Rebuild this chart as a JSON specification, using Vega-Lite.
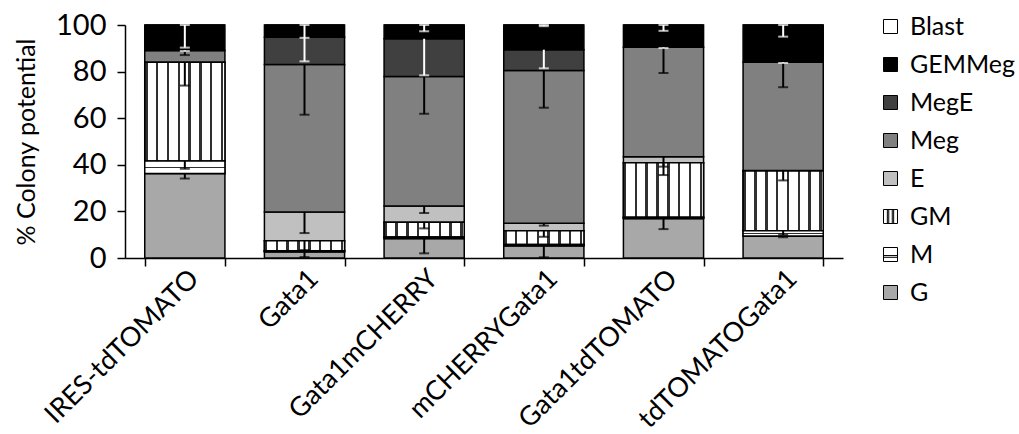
{
  "$schema": "https://vega.github.io/schema/vega-lite/v6.json",
  "width": 718,
  "height": 233,
  "autosize": {"type": "none"},
  "padding": {"left": 125, "top": 25, "right": 176, "bottom": 176},
  "background": "white",
  "config": {
    "font": "Lato",
    "view": {"stroke": null},
    "axis": {"domainColor": "black", "domainWidth": 1.5, "tickColor": "black", "tickWidth": 1.5, "tickSize": 8, "labelColor": "black", "titleColor": "black", "grid": false, "labelFontSize": 29, "titleFontSize": 25, "titleFontWeight": "normal", "labelLimit": 0}
  },
  "data": {
    "values": [
      {"construct": "IRES-tdTOMATO", "cat": "G", "value": 36.3, "err": 2.2},
      {"construct": "IRES-tdTOMATO", "cat": "M", "value": 5.3, "err": 3.3},
      {"construct": "IRES-tdTOMATO", "cat": "GM", "value": 42.4, "err": 10},
      {"construct": "IRES-tdTOMATO", "cat": "E", "value": 0, "err": 0},
      {"construct": "IRES-tdTOMATO", "cat": "Meg", "value": 5.1, "err": 2},
      {"construct": "IRES-tdTOMATO", "cat": "MegE", "value": 0, "err": 0.3},
      {"construct": "IRES-tdTOMATO", "cat": "GEMMeg", "value": 10.9, "err": 9.7},
      {"construct": "IRES-tdTOMATO", "cat": "Blast", "value": 0, "err": 0},
      {"construct": "Gata1", "cat": "G", "value": 2.7, "err": 2.3},
      {"construct": "Gata1", "cat": "M", "value": 0.4, "err": 0},
      {"construct": "Gata1", "cat": "GM", "value": 4.3, "err": 4},
      {"construct": "Gata1", "cat": "E", "value": 12.3, "err": 9},
      {"construct": "Gata1", "cat": "Meg", "value": 63.3, "err": 21.5},
      {"construct": "Gata1", "cat": "MegE", "value": 11.7, "err": 10.3},
      {"construct": "Gata1", "cat": "GEMMeg", "value": 5.3, "err": 5.5},
      {"construct": "Gata1", "cat": "Blast", "value": 0, "err": 0},
      {"construct": "Gata1mCHERRY", "cat": "G", "value": 8.4, "err": 6.4},
      {"construct": "Gata1mCHERRY", "cat": "M", "value": 0.6, "err": 0},
      {"construct": "Gata1mCHERRY", "cat": "GM", "value": 6.3, "err": 2.6},
      {"construct": "Gata1mCHERRY", "cat": "E", "value": 7, "err": 3},
      {"construct": "Gata1mCHERRY", "cat": "Meg", "value": 55.6, "err": 16},
      {"construct": "Gata1mCHERRY", "cat": "MegE", "value": 16.2, "err": 15.7},
      {"construct": "Gata1mCHERRY", "cat": "GEMMeg", "value": 5.9, "err": 2.7},
      {"construct": "Gata1mCHERRY", "cat": "Blast", "value": 0, "err": 0},
      {"construct": "mCHERRYGata1", "cat": "G", "value": 5.3, "err": 5},
      {"construct": "mCHERRYGata1", "cat": "M", "value": 0.5, "err": 0},
      {"construct": "mCHERRYGata1", "cat": "GM", "value": 5.9, "err": 2.6},
      {"construct": "mCHERRYGata1", "cat": "E", "value": 3.2, "err": 1},
      {"construct": "mCHERRYGata1", "cat": "Meg", "value": 65.6, "err": 16},
      {"construct": "mCHERRYGata1", "cat": "MegE", "value": 8.9, "err": 8},
      {"construct": "mCHERRYGata1", "cat": "GEMMeg", "value": 10.6, "err": 0.5},
      {"construct": "mCHERRYGata1", "cat": "Blast", "value": 0, "err": 0},
      {"construct": "Gata1tdTOMATO", "cat": "G", "value": 17, "err": 4.6},
      {"construct": "Gata1tdTOMATO", "cat": "M", "value": 0.5, "err": 0},
      {"construct": "Gata1tdTOMATO", "cat": "GM", "value": 23.4, "err": 5.3},
      {"construct": "Gata1tdTOMATO", "cat": "E", "value": 2.6, "err": 4.3},
      {"construct": "Gata1tdTOMATO", "cat": "Meg", "value": 46.9, "err": 11},
      {"construct": "Gata1tdTOMATO", "cat": "MegE", "value": 0, "err": 0.3},
      {"construct": "Gata1tdTOMATO", "cat": "GEMMeg", "value": 9.6, "err": 2.5},
      {"construct": "Gata1tdTOMATO", "cat": "Blast", "value": 0, "err": 0},
      {"construct": "tdTOMATOGata1", "cat": "G", "value": 9.4, "err": 0.5},
      {"construct": "tdTOMATOGata1", "cat": "M", "value": 2.3, "err": 1.8},
      {"construct": "tdTOMATOGata1", "cat": "GM", "value": 25.6, "err": 4},
      {"construct": "tdTOMATOGata1", "cat": "E", "value": 0.3, "err": 0},
      {"construct": "tdTOMATOGata1", "cat": "Meg", "value": 46.4, "err": 10.7},
      {"construct": "tdTOMATOGata1", "cat": "MegE", "value": 0, "err": 0.3},
      {"construct": "tdTOMATOGata1", "cat": "GEMMeg", "value": 16, "err": 5},
      {"construct": "tdTOMATOGata1", "cat": "Blast", "value": 0, "err": 0}
    ]
  },
  "transform": [
    {"calculate": "indexof(['G','M','GM','E','Meg','MegE','GEMMeg','Blast'], datum.cat)", "as": "ord"},
    {"stack": "value", "groupby": ["construct"], "sort": [{"field": "ord", "order": "ascending"}], "as": ["v0", "v1"]},
    {"calculate": "datum.v1 - datum.err", "as": "lo"}
  ],
  "encoding": {
    "x": {
      "field": "construct",
      "type": "nominal",
      "sort": ["IRES-tdTOMATO", "Gata1", "Gata1mCHERRY", "mCHERRYGata1", "Gata1tdTOMATO", "tdTOMATOGata1"],
      "scale": {"paddingInner": 0.33, "paddingOuter": 0.165},
      "axis": {"title": null, "labelAngle": -45, "tickBand": "extent", "labelPadding": -1, "labelFontSize": 27}
    }
  },
  "layer": [
    {
      "mark": {"type": "bar", "stroke": "black", "strokeWidth": 1.5},
      "encoding": {
        "y": {"field": "v0", "type": "quantitative", "scale": {"domain": [0, 100]}, "axis": {"values": [0, 20, 40, 60, 80, 100], "title": "% Colony potential", "titlePadding": 16, "labelPadding": 11}},
        "y2": {"field": "v1"},
        "color": {
          "field": "cat",
          "type": "nominal",
          "scale": {
            "domain": ["Blast", "GEMMeg", "MegE", "Meg", "E", "GM", "M", "G"],
            "range": ["#ffffff", "#000000", "#404040", "#808080", "#c0c0c0", "#ffffff", "#ffffff", "#a8a8a8"]
          },
          "legend": {
            "title": null, "orient": "none", "legendX": 753, "legendY": -11, "padding": 0,
            "labelFontSize": 25, "labelColor": "black", "symbolType": "square", "symbolSize": 196,
            "symbolStrokeColor": "black", "symbolStrokeWidth": 1, "symbolOpacity": 1, "rowPadding": 12, "labelOffset": 7,
            "encode": {
              "symbols": {
                "update": {
                  "stroke": {"value": "black"},
                  "strokeWidth": {"value": 1},
                  "opacity": {"value": 1},
                  "fillOpacity": {"value": 1},
                  "shape": [
                    {"test": "datum.value === 'GM'", "value": "M-1,-1H1V1H-1ZM-0.45,-1V1M-0.25,-1V1M0.25,-1V1M0.45,-1V1"},
                    {"test": "datum.value === 'M'", "value": "M-1,-1H1V1H-1ZM-1,0.15H1M-1,0.4H1"},
                    {"value": "square"}
                  ]
                }
              }
            }
          }
        }
      }
    },
    {
      "transform": [{"filter": "datum.cat === 'GM'"}],
      "mark": {"type": "bar", "stroke": "black", "strokeWidth": 1.5, "fill": {"gradient": "linear", "x1": 0, "y1": 0, "x2": 1, "y2": 0, "stops": [
                {"offset": 0, "color": "#ffffff"}, {"offset": 0.005, "color": "#ffffff"}, {"offset": 0.005, "color": "#303030"}, {"offset": 0.035, "color": "#303030"}, {"offset": 0.035, "color": "#ffffff"},
                {"offset": 0.14, "color": "#ffffff"}, {"offset": 0.14, "color": "#303030"}, {"offset": 0.17, "color": "#303030"}, {"offset": 0.17, "color": "#ffffff"},
                {"offset": 0.275, "color": "#ffffff"}, {"offset": 0.275, "color": "#303030"}, {"offset": 0.305, "color": "#303030"}, {"offset": 0.305, "color": "#ffffff"},
                {"offset": 0.41, "color": "#ffffff"}, {"offset": 0.41, "color": "#303030"}, {"offset": 0.44, "color": "#303030"}, {"offset": 0.44, "color": "#ffffff"},
                {"offset": 0.545, "color": "#ffffff"}, {"offset": 0.545, "color": "#303030"}, {"offset": 0.575, "color": "#303030"}, {"offset": 0.575, "color": "#ffffff"},
                {"offset": 0.68, "color": "#ffffff"}, {"offset": 0.68, "color": "#303030"}, {"offset": 0.71, "color": "#303030"}, {"offset": 0.71, "color": "#ffffff"},
                {"offset": 0.815, "color": "#ffffff"}, {"offset": 0.815, "color": "#303030"}, {"offset": 0.845, "color": "#303030"}, {"offset": 0.845, "color": "#ffffff"},
                {"offset": 0.95, "color": "#ffffff"}, {"offset": 0.95, "color": "#303030"}, {"offset": 0.98, "color": "#303030"}, {"offset": 0.98, "color": "#ffffff"},
                {"offset": 1, "color": "#ffffff"}
              ]}},
      "encoding": {
        "y": {"field": "v0", "type": "quantitative"},
        "y2": {"field": "v1"}
      }
    },
    {
      "transform": [{"filter": "datum.cat === 'M'"}],
      "mark": {"type": "bar", "stroke": "black", "strokeWidth": 1.5, "fill": {"gradient": "linear", "x1": 0, "y1": 0, "x2": 0, "y2": 1, "stops": [
                {"offset": 0, "color": "#ffffff"}, {"offset": 0.45, "color": "#ffffff"}, {"offset": 0.45, "color": "#303030"}, {"offset": 0.6, "color": "#303030"}, {"offset": 0.6, "color": "#ffffff"}, {"offset": 1, "color": "#ffffff"}
              ]}},
      "encoding": {
        "y": {"field": "v0", "type": "quantitative"},
        "y2": {"field": "v1"}
      }
    },
    {
      "transform": [{"filter": "datum.err > 0"}],
      "mark": {"type": "rule", "strokeWidth": 2},
      "encoding": {
        "y": {"field": "v1", "type": "quantitative"},
        "y2": {"field": "lo"},
        "color": {"condition": {"test": "datum.cat === 'MegE' || datum.cat === 'GEMMeg'", "value": "white"}, "value": "black"}
      }
    },
    {
      "transform": [{"filter": "datum.err > 0"}],
      "mark": {"type": "tick", "orient": "horizontal", "size": 10, "thickness": 2},
      "encoding": {
        "y": {"field": "lo", "type": "quantitative"},
        "color": {"condition": {"test": "datum.cat === 'MegE' || datum.cat === 'GEMMeg'", "value": "white"}, "value": "black"}
      }
    },
    {
      "transform": [{"filter": "datum.cat === 'GEMMeg'"}],
      "mark": {"type": "tick", "orient": "horizontal", "size": 10, "thickness": 2, "color": "white"},
      "encoding": {
        "y": {"field": "v1", "type": "quantitative"}
      }
    }
  ]
}
